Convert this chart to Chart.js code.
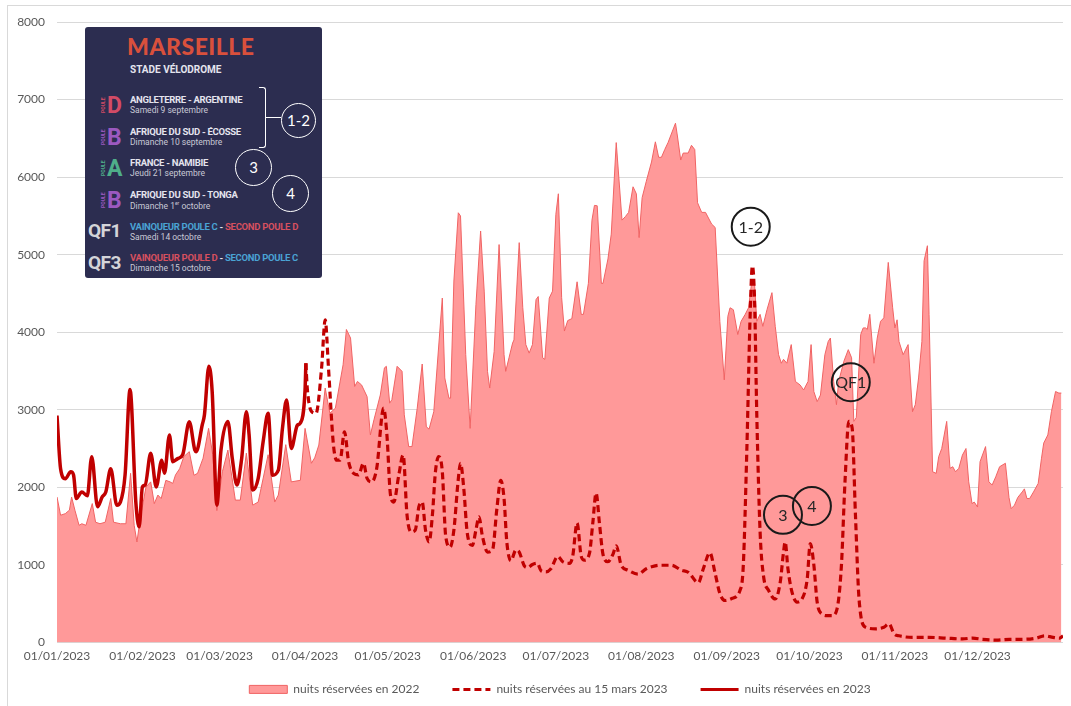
<!DOCTYPE html>
<html>
<head>
<meta charset="utf-8">
<script src="https://cdn.jsdelivr.net/npm/chart.js@4.4.0/dist/chart.umd.min.js"></script>
<style>
  html, body { margin: 0; padding: 0; background: #fff; }
  #wrap { position: relative; width: 1071px; height: 706px; overflow: hidden; }
  #frame { position: absolute; left: 7px; top: 5px; width: 1100px; height: 740px; border: 1px solid #d9d9d9; box-sizing: border-box; }
  #chart { position: absolute; left: 0; top: 0; }
  #inset { position: absolute; left: 85px; top: 27px; width: 237px; height: 251px; background: #2c2d50; border-radius: 3px; font-family: Roboto, sans-serif; color: #e4e4ee; overflow: hidden; }
  #inset div { position: absolute; white-space: nowrap; line-height: 1; }
  .city { left: 42px; top: 8px; font: 900 23px Lato, sans-serif; color: #d9503c; letter-spacing: 0.5px; }
  .stade { left: 45px; top: 38px; font-weight: 700; font-size: 10px; }
  .big { font-weight: 700; font-size: 23px; }
  .poule { font-size: 5px; font-weight: 700; transform: rotate(-90deg); transform-origin: left top; }
  .title { left: 45px; font-weight: 700; font-size: 9.5px; letter-spacing: -0.3px; }
  .sub { left: 45px; font-size: 8.5px; color: #c9c9d6; }
  .qf { left: 3px; font-weight: 700; font-size: 19px; color: #d4d4d8; letter-spacing: -0.5px; }
  .blue { color: #4aa3d4; }
  .red { color: #d6505f; }
  .ring { border: 1.5px solid #fff; border-radius: 50%; box-sizing: border-box; text-align: center; color: #fff; font-size: 15px; font-family: Lato, sans-serif; }
  .br { border-color: #fff; border-style: solid; border-width: 0; }
</style>
</head>
<body>
<div id="wrap">
  <div id="frame"></div>
  <canvas id="chart" width="1071" height="706"></canvas>
  <div id="inset">
    <div class="city">MARSEILLE</div>
    <div class="stade">STADE VÉLODROME</div>

    <div class="poule" style="left:16px;top:86px;color:#d24b66">POULE</div>
    <div class="big" style="left:22px;top:67px;color:#d24b66">D</div>
    <div class="title" style="top:68px">ANGLETERRE - ARGENTINE</div>
    <div class="sub" style="top:79px">Samedi 9 septembre</div>

    <div class="poule" style="left:16px;top:118px;color:#9b59c0">POULE</div>
    <div class="big" style="left:22px;top:99px;color:#9b59c0">B</div>
    <div class="title" style="top:100px">AFRIQUE DU SUD - ÉCOSSE</div>
    <div class="sub" style="top:111px">Dimanche 10 septembre</div>

    <div class="poule" style="left:16px;top:149px;color:#4fae8a">POULE</div>
    <div class="big" style="left:22px;top:130px;color:#4fae8a">A</div>
    <div class="title" style="top:131px">FRANCE - NAMIBIE</div>
    <div class="sub" style="top:142px">Jeudi 21 septembre</div>

    <div class="poule" style="left:16px;top:181px;color:#9b59c0">POULE</div>
    <div class="big" style="left:22px;top:162px;color:#9b59c0">B</div>
    <div class="title" style="top:163px">AFRIQUE DU SUD - TONGA</div>
    <div class="sub" style="top:174px">Dimanche 1<sup style="font-size:5px">er</sup> octobre</div>

    <div class="qf" style="top:194px">QF1</div>
    <div class="title" style="top:195px"><span class="blue">VAINQUEUR POULE C</span> - <span class="red">SECOND POULE D</span></div>
    <div class="sub" style="top:206px">Samedi 14 octobre</div>

    <div class="qf" style="top:226px">QF3</div>
    <div class="title" style="top:226px"><span class="red">VAINQUEUR POULE D</span> - <span class="blue">SECOND POULE C</span></div>
    <div class="sub" style="top:237px">Dimanche 15 octobre</div>

    <div class="br" style="left:174px;top:60px;width:6px;height:30px;border-top-width:1.5px;border-right-width:1.5px;border-top-right-radius:3px"></div>
    <div class="br" style="left:174px;top:90px;width:6px;height:30px;border-bottom-width:1.5px;border-right-width:1.5px;border-bottom-right-radius:3px"></div>
    <div class="br" style="left:180px;top:90px;width:16px;height:0;border-top-width:1.5px"></div>

    <div class="ring" style="left:196px;top:76px;width:35px;height:35px;line-height:32px">1-2</div>
    <div class="ring" style="left:150px;top:122px;width:37px;height:37px;line-height:34px">3</div>
    <div class="ring" style="left:187px;top:148px;width:37px;height:37px;line-height:34px">4</div>
  </div>
</div>
<script>
// x values are days since 01/01/2023
const monthDays = [0, 31, 59, 90, 120, 151, 181, 212, 243, 273, 304, 334];
const monthLabels = ['01/01/2023', '01/02/2023', '01/03/2023', '01/04/2023', '01/05/2023', '01/06/2023',
  '01/07/2023', '01/08/2023', '01/09/2023', '01/10/2023', '01/11/2023', '01/12/2023'];

const seriesLabels = ['nuits réservées en 2022', 'nuits réservées au 15 mars 2023', 'nuits réservées en 2023'];

// nuits réservées en 2022 [day, nights]
const nuits2022 = [
  [0, 1875], [1.3, 1640], [3, 1660], [4.5, 1705], [5.3, 1875], [6.5, 1705], [8, 1510], [9, 1530], [10.5, 1510],
  [12.8, 1790], [14, 1550], [15.6, 1530], [17.5, 1550], [19.5, 1855], [20.5, 1550], [23, 1530], [25, 1530],
  [26.7, 2180], [28, 1510], [29, 1295], [30.3, 1620], [32.3, 2005], [34, 2070], [35.3, 1790], [36.6, 1900],
  [37.8, 1855], [39.5, 2090], [41, 2070], [42, 2050], [43, 2160], [44.5, 2240], [46, 2395], [48, 2460],
  [49.7, 2155], [51, 2180], [53, 2375], [55, 2760], [56.5, 2420], [58, 1700], [60, 2200], [62, 2480],
  [64.7, 1835], [66.5, 1835], [68.7, 2440], [71, 1770], [73, 1810], [76.6, 2420], [79, 1810], [80.3, 1900],
  [83, 2550], [85, 2070], [88.3, 2090], [90, 2760], [92.3, 2310], [93.5, 2380], [95, 2545], [97.3, 3280],
  [99, 2955], [101, 3020], [103.8, 3580], [105, 4035], [106.5, 3925], [108, 3300], [109, 3365], [110.5, 3320],
  [112.5, 3170], [113.7, 2675], [115, 2870], [117.3, 3190], [118.8, 3540], [119.5, 3560], [120.7, 3085],
  [121.5, 3130], [123.4, 3560], [125.2, 3495], [126, 2935], [127.6, 2525], [128.8, 2525], [130.7, 3020],
  [132.5, 3590], [134, 2780], [135, 2750], [136.7, 2975], [139.8, 4440], [140.7, 3410], [142.2, 3150],
  [142.8, 3150], [144, 4660], [145.6, 5540], [146.4, 5500], [148.3, 3710], [149.9, 2760], [152, 4355],
  [153.7, 5305], [155, 4530], [156.2, 3495], [157, 3280], [158.6, 3750], [160.4, 5130], [162.2, 3710],
  [162.8, 3495], [164, 3670], [165.3, 3860], [165.8, 3900], [167.7, 5155], [169, 4315], [170.1, 3840],
  [171.3, 3730], [172.5, 3840], [173.8, 4420], [174.6, 4460], [176.2, 3670], [177, 3650], [178.6, 4440],
  [179.8, 4530], [181, 5520], [181.9, 5785], [183.1, 4445], [184.1, 4015], [185.3, 4150], [186.8, 4175],
  [188.7, 4650], [190.2, 4230], [191, 4230], [192.8, 4630], [194.1, 5445], [195, 5635], [196, 5630],
  [197.5, 4630], [198.1, 4630], [199.9, 4945], [201.1, 5265], [202.9, 6445], [205, 5445], [206.2, 5490],
  [207.4, 5545], [209, 5875], [210.2, 5785], [211.2, 5220], [212.3, 5735], [213.8, 5945], [215.7, 6195],
  [217.1, 6455], [218.3, 6255], [219.3, 6255], [220.5, 6355], [221.7, 6445], [224.4, 6695], [225.1, 6530],
  [226.3, 6220], [227.2, 6310], [229, 6310], [230.2, 6410], [231.4, 6355], [232.4, 5670], [233.9, 5545],
  [235.3, 5545], [237.5, 5395], [238.8, 5350], [240.5, 4140], [242.1, 3385], [243.4, 4205], [244.2, 4315],
  [245.4, 4290], [247, 3970], [248.2, 4140], [249.7, 4230], [250.9, 4315], [252.1, 4660], [253.1, 4615],
  [253.9, 4140], [255.1, 4230], [256.1, 4075], [257.6, 4290], [259.4, 4510], [260.6, 4075], [261.8, 3710],
  [262.8, 3600], [263.6, 3650], [264.8, 3600], [266.4, 3840], [267.9, 3365], [269.6, 3320], [270.9, 3255],
  [272.5, 3365], [273.6, 3840], [274.6, 3235], [275.8, 3105], [277, 3190], [278.6, 3710], [279.8, 3880],
  [280.6, 3925], [281.8, 3365], [282.8, 3065], [283.6, 3365], [285.5, 3625], [287.1, 3775], [288.3, 3670],
  [289.1, 2850], [290, 2900], [291.6, 3970], [292.5, 4055], [293.4, 4055], [294, 4035], [294.9, 4230],
  [296.4, 3600], [297.6, 3925], [298.8, 4140], [300, 4185], [301.6, 4900], [303.2, 4315], [304, 4055],
  [304.8, 4160], [305.5, 3880], [307, 3710], [308.8, 3840], [310.4, 2975], [311.4, 3065], [312.6, 3410],
  [313.8, 3880], [314.6, 4920], [315.8, 5115], [316.4, 4230], [317.7, 2200], [319, 2180], [319.9, 2395],
  [321, 2500], [322.8, 2850], [324, 2245], [325, 2265], [326, 2200], [327.2, 2245], [328.5, 2415],
  [329.8, 2500], [330.8, 2070], [332, 1790], [332.8, 1810], [334, 1745], [334.9, 2330], [336.9, 2525],
  [338.1, 2070], [339.3, 2030], [340.6, 2135], [342, 2265], [344.1, 2310], [345.4, 1870], [346.2, 1725],
  [347.4, 1770], [348.6, 1870], [350.2, 1940], [351, 1980], [351.9, 1855], [352.9, 1855], [354.3, 1940],
  [356, 2050], [357.2, 2375], [358, 2570], [359.5, 2675], [360.8, 2975], [362.3, 3235], [363.5, 3215],
  [364.4, 3215]
];

// nuits réservées au 15 mars 2023 [day, nights]
const nuitsMars2023 = [
  [90.3, 3600], [90.8, 3280], [92.4, 2975], [94, 2955], [96, 3540], [97.3, 4160], [98.5, 3540], [100.3, 2545],
  [101.5, 2350], [102.7, 2350], [104.3, 2715], [105.8, 2330], [107.6, 2180], [109.4, 2160], [111.2, 2310],
  [112.5, 2115], [114.2, 2070], [116, 2245], [118.5, 3020], [119.7, 2675], [121, 1900], [122.2, 1810],
  [124, 2155], [125.6, 2415], [127, 1640], [128.5, 1425], [130, 1450], [131.3, 1750], [132.5, 1810],
  [133.7, 1450], [135, 1295], [136.2, 1640], [137.3, 2200], [138.5, 2395], [139.8, 2200], [141, 1380],
  [142.6, 1230], [144, 1450], [145.5, 2070], [146.4, 2310], [147.6, 1980], [148.8, 1425], [150.7, 1250],
  [152, 1450], [153.1, 1620], [154.3, 1380], [156.2, 1165], [158, 1190], [159.6, 1725], [161, 2090],
  [162.2, 1855], [163.2, 1295], [164.7, 1055], [166.5, 1190], [167.7, 1165], [169.5, 990], [170.7, 965],
  [172.5, 1005], [174.3, 1020], [175.6, 925], [177.4, 910], [179.2, 950], [181.7, 1110], [183.5, 1040],
  [185.9, 1020], [187.1, 1110], [188.7, 1540], [190.2, 1110], [191.4, 1060], [193.2, 1150], [194.4, 1540],
  [195.6, 1925], [196.8, 1540], [198.1, 1135], [199.9, 1040], [201.7, 1135], [202.9, 1245], [204.7, 995],
  [207.2, 930], [210.8, 880], [213.8, 950], [215.7, 975], [218.7, 995], [222.9, 995], [226.6, 930],
  [229, 905], [232.7, 770], [234.5, 950], [236.9, 1155], [238.7, 905], [240.5, 630], [242.4, 540],
  [244.8, 565], [247.8, 670], [249, 990], [250.3, 2500], [251.5, 4230], [252.3, 4855], [253.1, 4400],
  [253.9, 2935], [255.1, 1425], [256.3, 865], [258.2, 670], [260.6, 560], [262.4, 775], [263.6, 1165],
  [264.2, 1295], [265.2, 950], [266.7, 645], [268.5, 520], [270.3, 560], [272.2, 820], [273.3, 1275],
  [274.6, 1000], [275.8, 520], [277.6, 365], [279.4, 345], [281.2, 345], [283, 430], [284.6, 990],
  [285.9, 2070], [287.3, 2850], [288.5, 2765], [289.7, 1640], [291, 560], [293.4, 195], [297, 175],
  [300, 195], [301.9, 240], [303.7, 110], [305.5, 85], [310.4, 65], [316.4, 65], [322.5, 55], [328.5, 45],
  [332.2, 55], [335.8, 40], [340.7, 30], [345.6, 40], [350.4, 40], [355.3, 55], [358.3, 85], [361.4, 65],
  [363.8, 55], [365, 85]
];

// nuits réservées en 2023 [day, nights]
const nuits2023 = [
  [0, 2925], [1.3, 2240], [3, 2110], [5, 2200], [6, 2160], [7, 1855], [9, 1940], [11, 1890], [12.6, 2395],
  [14.7, 1750], [16.4, 1875], [17.7, 1940], [19.5, 2240], [21.7, 1770], [23, 1810], [24.7, 2160], [26.5, 3260],
  [28.6, 1810], [29.8, 1490], [31, 2005], [32, 2030], [34, 2440], [36, 2005], [38, 2350], [39, 2180],
  [40.8, 2675], [42, 2330], [43.8, 2370], [45.6, 2420], [48, 2845], [50, 2480], [50.5, 2460], [52.7, 2805],
  [53.5, 2935], [55.1, 3560], [56.3, 3235], [58, 1770], [59.5, 2480], [62, 2850], [63.6, 2370], [65.3, 2030],
  [67, 2370], [68.7, 2975], [69.7, 2675], [71, 1965], [73, 2115], [74.8, 2590], [76.6, 2955], [78.2, 2155],
  [80.3, 2220], [81.8, 2760], [83.3, 3125], [85, 2500], [87.2, 2800], [88.3, 2830], [90, 3255], [90.3, 3600]
];

// circled match markers on the chart
const noteLabels = ['1-2', '3', '4', 'QF1'];
const noteDays = [251.7, 263.4, 273.9, 288];
const noteValues = [5360, 1645, 1760, 3355];

const tickColor = '#595959';
const tickFont = { family: 'Lato', size: 12 };

const circleNotes = {
  id: 'circleNotes',
  afterDatasetsDraw(chart) {
    const { ctx, scales: { x, y } } = chart;
    ctx.save();
    noteLabels.forEach((txt, i) => {
      const px = x.getPixelForValue(noteDays[i]);
      const py = y.getPixelForValue(noteValues[i]);
      ctx.beginPath();
      ctx.arc(px, py, 19, 0, Math.PI * 2);
      ctx.lineWidth = 2;
      ctx.strokeStyle = '#1a1a1a';
      ctx.stroke();
      ctx.fillStyle = '#262626';
      ctx.font = '16px Lato';
      ctx.textAlign = 'center';
      ctx.textBaseline = 'middle';
      ctx.fillText(txt, px, py + 1);
    });
    ctx.restore();
  }
};

const ctx = document.getElementById('chart').getContext('2d');
new Chart(ctx, {
  type: 'line',
  data: {
    datasets: [
      {
        label: seriesLabels[0],
        data: nuits2022,
        fill: 'origin',
        backgroundColor: '#ff9999',
        borderColor: '#f06464',
        borderWidth: 1,
        pointRadius: 0,
        tension: 0,
        order: 3,
        legendStyle: 'rect'
      },
      {
        label: seriesLabels[1],
        data: nuitsMars2023,
        fill: false,
        borderColor: '#c00000',
        borderWidth: 3.2,
        borderDash: [7, 4],
        pointRadius: 0,
        cubicInterpolationMode: 'monotone',
        order: 2,
        legendStyle: 'line'
      },
      {
        label: seriesLabels[2],
        data: nuits2023,
        fill: false,
        borderColor: '#c00000',
        borderWidth: 3.5,
        pointRadius: 0,
        cubicInterpolationMode: 'monotone',
        order: 1,
        legendStyle: 'line'
      }
    ]
  },
  options: {
    responsive: false,
    animation: false,
    layout: { padding: { top: 22, right: 8, bottom: 0.6, left: 0 } },
    scales: {
      x: {
        type: 'linear',
        min: 0,
        max: 365,
        grid: { display: false },
        border: { display: false },
        afterBuildTicks: (scale) => { scale.ticks = monthDays.map(v => ({ value: v })); },
        // labels are mirrored below the axis so the legend can keep its wide spacing
        afterFit: (scale) => { scale.height = 8; },
        ticks: {
          autoSkip: false,
          maxRotation: 0,
          mirror: true,
          padding: -21,
          color: tickColor,
          font: tickFont,
          callback: (value, index) => monthLabels[index]
        }
      },
      y: {
        min: 0,
        max: 8000,
        grid: { color: '#d9d9d9', drawTicks: false },
        border: { display: false },
        afterFit: (scale) => { scale.width = 57; },
        ticks: { stepSize: 1000, padding: 12, color: tickColor, font: tickFont, callback: (v) => String(v) }
      }
    },
    plugins: {
      tooltip: { enabled: false },
      legend: {
        position: 'bottom',
        fullSize: false,
        labels: {
          usePointStyle: true,
          pointStyleWidth: 38,
          boxHeight: 8,
          padding: 33,
          color: tickColor,
          font: tickFont,
          generateLabels: (chart) => chart.data.datasets.map((ds, i) => ({
            text: ds.label,
            datasetIndex: i,
            hidden: false,
            fontColor: tickColor,
            fillStyle: ds.legendStyle === 'rect' ? ds.backgroundColor : ds.borderColor,
            strokeStyle: ds.borderColor,
            lineWidth: ds.legendStyle === 'rect' ? 1 : 3,
            lineDash: ds.borderDash || [],
            pointStyle: ds.legendStyle
          }))
        }
      }
    }
  },
  plugins: [circleNotes]
});
</script>
</body>
</html>
